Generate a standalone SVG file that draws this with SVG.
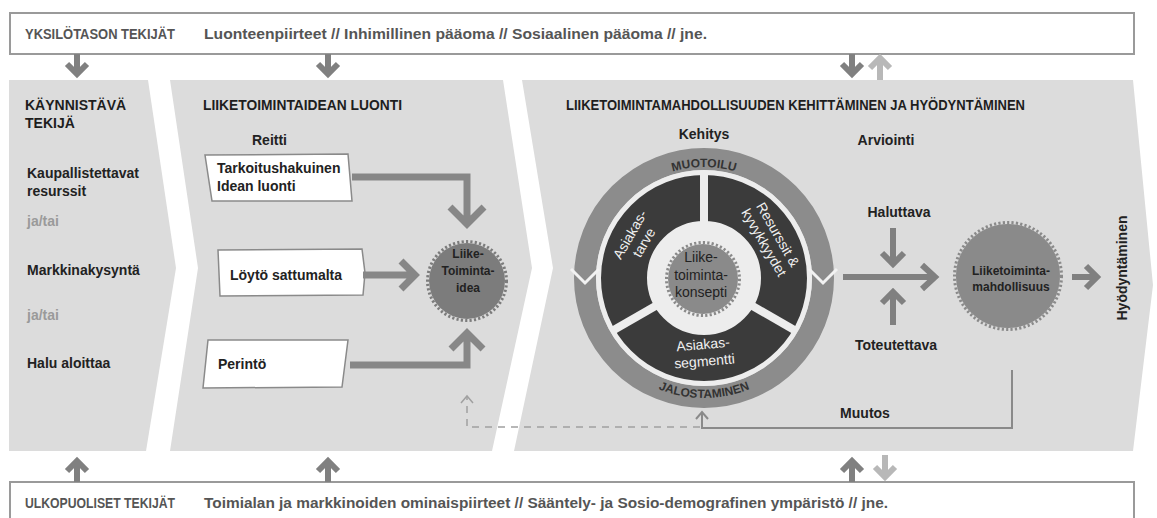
<svg xmlns="http://www.w3.org/2000/svg" width="1157" height="518" viewBox="0 0 1157 518">
<defs>
<style>
text{font-family:"Liberation Sans",Arial,sans-serif;}
.b{font-weight:bold;font-size:14px;fill:#222;}
.t{font-weight:bold;font-size:14px;fill:#1e1e1e;}
.hdr{font-weight:bold;font-size:14px;fill:#555;}
.gray{font-weight:bold;font-size:14px;fill:#9a9a9a;}
.w{font-size:14px;fill:#f0f0f0;}
.c{font-weight:bold;font-size:12px;fill:#222;text-anchor:middle;}
.ring{font-weight:bold;font-size:12px;fill:#333;}
.panel{fill:#dcdcdc;}
.box{fill:#fff;stroke:#8a8a8a;stroke-width:1.5;}
.frame{fill:#fff;stroke:#9a9a9a;stroke-width:2;}
.thick{fill:none;stroke:#878787;stroke-width:7;}
.arr{fill:none;stroke:#808080;stroke-width:6;}
.arrL{fill:none;stroke:#b8b8b8;stroke-width:6;}
.thin{fill:none;stroke:#8a8a8a;stroke-width:2;}
.dash{fill:none;stroke:#a0a0a0;stroke-width:1.5;stroke-dasharray:7 6;}
.sun{fill:#8a8a8a;}
.teeth{fill:none;stroke:#8a8a8a;stroke-width:3;stroke-dasharray:2.2 2.2;}
</style>
<path id="arcTop" d="M593 278 A111 111 0 0 1 815 278"/>
<path id="arcBot" d="M584 278 A120 120 0 0 0 824 278"/>
</defs>

<g id="panels">
<polygon class="panel" points="9,80 148,80 176,268 146,451 9,451"/>
<polygon class="panel" points="170,80 503,80 532,268 492,451 170,451 198,268"/>
<polygon class="panel" points="522,80 1133,80 1153,285 1133,451 514,451 553,268"/>
</g>

<g id="top-factors">
<rect class="frame" x="10" y="13" width="1124" height="41"/>
<text class="hdr" x="25" y="39" textLength="150" lengthAdjust="spacingAndGlyphs">YKSILÖTASON TEKIJÄT</text>
<text class="hdr" x="204" y="39" textLength="503" lengthAdjust="spacingAndGlyphs">Luonteenpiirteet // Inhimillinen pääoma // Sosiaalinen pääoma // jne.</text>
</g>

<g id="bottom-factors">
<rect class="frame" x="10" y="482" width="1124" height="45"/>
<text class="hdr" x="25" y="508" textLength="150" lengthAdjust="spacingAndGlyphs">ULKOPUOLISET TEKIJÄT</text>
<text class="hdr" x="204" y="508" textLength="684" lengthAdjust="spacingAndGlyphs">Toimialan ja markkinoiden ominaispiirteet // Sääntely- ja Sosio-demografinen ympäristö // jne.</text>
</g>

<g id="panel-trigger">
<text class="t" x="25" y="110">KÄYNNISTÄVÄ</text>
<text class="t" x="25" y="128">TEKIJÄ</text>
<text class="b" x="27" y="178">Kaupallistettavat</text>
<text class="b" x="27" y="196">resurssit</text>
<text class="gray" x="27" y="226">ja/tai</text>
<text class="b" x="27" y="275">Markkinakysyntä</text>
<text class="gray" x="27" y="320">ja/tai</text>
<text class="b" x="27" y="368">Halu aloittaa</text>
</g>

<g id="panel-idea">
<text class="t" x="203" y="110" textLength="199" lengthAdjust="spacingAndGlyphs">LIIKETOIMINTAIDEAN LUONTI</text>
<text class="b" x="252" y="145">Reitti</text>
</g>

<g id="box-tarkoitus">
<polygon class="box" points="205,155 348,154 352,201 212,201"/>
<text class="b" x="217" y="173">Tarkoitushakuinen</text>
<text class="b" x="217" y="191">Idean luonti</text>
</g>
<g id="box-loyto">
<polygon class="box" points="218,250 362,249 365,273 363,295 220,296"/>
<text class="b" x="230" y="280">Löytö sattumalta</text>
</g>
<g id="box-perinto">
<polygon class="box" points="208,340 348,340 342,387 203,388"/>
<text class="b" x="218" y="369">Perintö</text>
</g>

<g id="node-idea">
<circle cx="467" cy="281" r="38" fill="#7c7c7c"/>
<circle cx="467" cy="281" r="39.5" fill="none" stroke="#7c7c7c" stroke-width="3" stroke-dasharray="2.2 2.2"/>
<text class="c" x="468" y="258">Liike-</text>
<text class="c" x="468" y="275">Toiminta-</text>
<text class="c" x="468" y="292">idea</text>
</g>

<g id="panel-opportunity">
<text class="t" x="566" y="110" textLength="459" lengthAdjust="spacingAndGlyphs">LIIKETOIMINTAMAHDOLLISUUDEN KEHITTÄMINEN JA HYÖDYNTÄMINEN</text>
<text class="b" x="704" y="139" text-anchor="middle">Kehitys</text>
<text class="b" x="886" y="145" text-anchor="middle">Arviointi</text>
<text class="b" x="899" y="217" text-anchor="middle">Haluttava</text>
<text class="b" x="896" y="350" text-anchor="middle">Toteutettava</text>
<text class="b" x="865" y="418" text-anchor="middle">Muutos</text>
<text class="b" transform="translate(1127,268) rotate(-90)" text-anchor="middle">Hyödyntäminen</text>
</g>

<g id="node-concept-wheel">
<circle cx="704" cy="278" r="119" fill="none" stroke="#8c8c8c" stroke-width="22"/>
<circle cx="704" cy="278" r="108" fill="#ededed"/>
<circle cx="704" cy="278" r="80" fill="none" stroke="#3b3b3b" stroke-width="46"/>
<g stroke="#ededed" stroke-width="8">
<line x1="704" y1="228" x2="704" y2="172"/>
<line x1="747.3" y1="303" x2="796" y2="331"/>
<line x1="660.7" y1="303" x2="612" y2="331"/>
</g>
<polyline points="571,269 585,283 599,269" fill="none" stroke="#f2f2f2" stroke-width="3"/>
<polyline points="809,269 823,283 837,269" fill="none" stroke="#f2f2f2" stroke-width="3"/>
<text class="ring"><textPath href="#arcTop" startOffset="50%" text-anchor="middle">MUOTOILU</textPath></text>
<text class="ring"><textPath href="#arcBot" startOffset="50%" text-anchor="middle">JALOSTAMINEN</textPath></text>
<g transform="translate(636,238) rotate(-60)">
<text class="w" x="0" y="-2" text-anchor="middle">Asiakas-</text>
<text class="w" x="0" y="14" text-anchor="middle">tarve</text>
</g>
<g transform="translate(772,238) rotate(60)">
<text class="w" x="0" y="-2" text-anchor="middle">Resurssit &amp;</text>
<text class="w" x="0" y="14" text-anchor="middle">kyvykkyydet</text>
</g>
<g transform="translate(704,356) rotate(-5)">
<text class="w" x="0" y="-7" text-anchor="middle">Asiakas-</text>
<text class="w" x="0" y="10" text-anchor="middle">segmentti</text>
</g>
<circle class="sun" cx="703" cy="279" r="35"/>
<circle class="teeth" cx="703" cy="279" r="36.5"/>
<text x="701" y="262" text-anchor="middle" font-size="14" fill="#222">Liike-</text>
<text x="701" y="280" text-anchor="middle" font-size="14" fill="#222">toiminta-</text>
<text x="701" y="297" text-anchor="middle" font-size="14" fill="#222">konsepti</text>
</g>

<g id="node-opportunity">
<circle class="sun" cx="1008" cy="276" r="52"/>
<circle class="teeth" cx="1008" cy="276" r="53.5"/>
<text class="c" x="1011" y="275">Liiketoiminta-</text>
<text class="c" x="1011" y="291">mahdollisuus</text>
</g>

<g id="connectors">
<path class="arr" d="M77 54 V74 M67 64 L77 74 L87 64"/>
<path class="arr" d="M328 54 V74 M318 64 L328 74 L338 64"/>
<path class="arr" d="M852 54 V74 M842 64 L852 74 L862 64"/>
<path class="arrL" d="M880 80 V58 M870 68 L880 58 L890 68"/>
<path class="arr" d="M77 482 V461 M67 471 L77 461 L87 471"/>
<path class="arr" d="M328 482 V461 M318 471 L328 461 L338 471"/>
<path class="arr" d="M852 482 V461 M842 471 L852 461 L862 471"/>
<path class="arrL" d="M885 455 V477 M875 467 L885 477 L895 467"/>
<path class="thick" d="M352 177 H467 V222 M450 207 L467 224 L484 207"/>
<path class="thick" d="M363 275 H414 M401 261 L415 275 L401 289"/>
<path class="thick" d="M350 365 H467 V334 M451 349 L467 333 L483 349"/>
<path class="dash" d="M700 427 H467 V397"/>
<path fill="none" stroke="#a0a0a0" stroke-width="1.5" d="M461 403 L467 396 L473 403"/>
<path class="thin" d="M1012 370 V428 H702 V413 M696 419 L702 412 L708 419"/>
<path class="arr" d="M843 277 H935 M922 265 L935 277 L922 289"/>
<path class="arr" d="M893 228 V264 M882 253 L893 264 L904 253"/>
<path class="arr" d="M893 325 V292 M882 303 L893 292 L904 303"/>
<path class="arr" d="M1072 277 H1096 M1086 266 L1097 277 L1086 288"/>
</g>
</svg>
